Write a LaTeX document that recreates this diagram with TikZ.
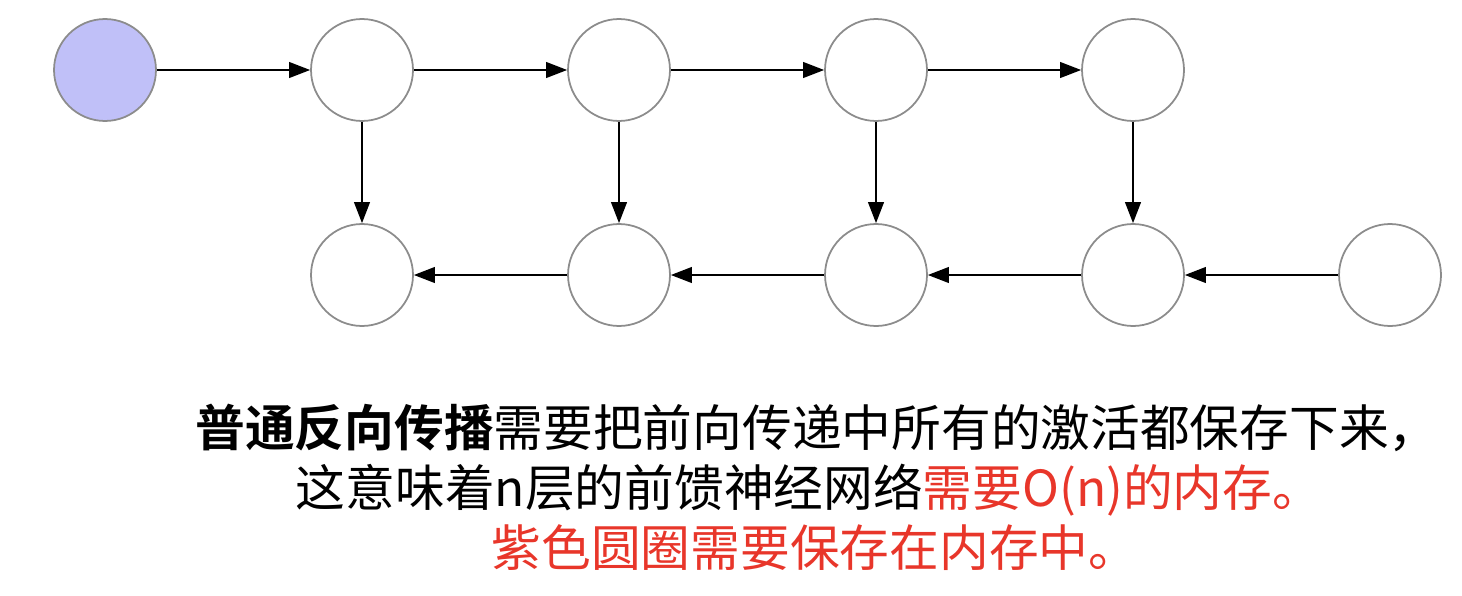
\documentclass[tikz,border=0pt]{standalone}
\usepackage{fontspec}
\newfontfamily\cjk{Noto Sans CJK SC}
\newfontfamily\cjkb{Noto Sans CJK SC Bold}
\usetikzlibrary{arrows.meta}
\definecolor{purp}{HTML}{C0C0F8}
\definecolor{redt}{HTML}{E8362A}
\begin{document}
\begin{tikzpicture}[x=0.02cm,y=-0.02cm,
  nd/.style={circle,draw=black!45,line width=1pt,minimum size=2.04cm,inner sep=0pt,fill=white},
  ar/.style={-{Triangle[length=12pt,width=9pt]},line width=1pt},
  txt/.style={font=\cjk\fontsize{28.3}{34}\selectfont,inner sep=0pt}]
\useasboundingbox (0,0) rectangle (1462,595);
\node[nd,fill=purp] (a0) at (105,70) {};
\foreach \i/\x in {1/362,2/619,3/876,4/1133}{\node[nd] (a\i) at (\x,70) {};}
\foreach \i/\x in {1/362,2/619,3/876,4/1133,5/1390}{\node[nd] (b\i) at (\x,275) {};}
\foreach \i/\j in {0/1,1/2,2/3,3/4}{\draw[ar] (a\i) -- (a\j);}
\foreach \i in {1,2,3,4}{\draw[ar] (a\i) -- (b\i);}
\foreach \i/\j in {5/4,4/3,3/2,2/1}{\draw[ar] (b\i) -- (b\j);}
\node[txt] (t1) at (817,428) {{\cjkb 普通反向传播}需要把前向传递中所有的激活都保存下来，};
\node[txt] (t2) at (809,490) {这意味着n层的前馈神经网络\textcolor{redt}{需要O(n)的内存。}};
\node[txt,text=redt] (t3) at (815,548) {紫色圆圈需要保存在内存中。};
\end{tikzpicture}
\end{document}
